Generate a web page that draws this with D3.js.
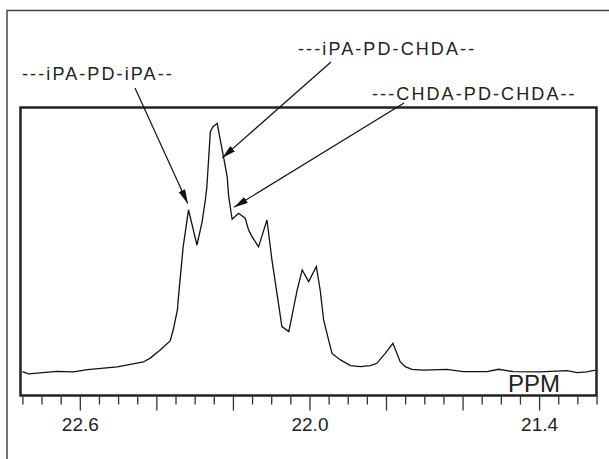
<!DOCTYPE html>
<html>
<head>
<meta charset="utf-8">
<script src="https://cdn.jsdelivr.net/npm/d3@7"></script>
<style>
  html, body { margin: 0; padding: 0; background: #fff; }
  svg { display: block; font-family: "Liberation Sans", Arial, Helvetica, sans-serif; }
</style>
</head>
<body>
<svg id="chart" width="609" height="459"></svg>
<script>
// 13C NMR methyl region: chemical shift (ppm) and relative intensity
const shiftPpm = [
  22.750, 22.734, 22.659, 22.617, 22.580, 22.502, 22.434, 22.416, 22.390, 22.364,
  22.356, 22.345, 22.343, 22.330, 22.316, 22.294, 22.281, 22.272, 22.268, 22.259,
  22.252, 22.241, 22.233, 22.224, 22.215, 22.211, 22.202, 22.185, 22.168, 22.159,
  22.150, 22.133, 22.111, 22.098, 22.085, 22.072, 22.054, 22.032, 22.019, 22.002,
  21.982, 21.972, 21.963, 21.950, 21.941, 21.919, 21.893, 21.867, 21.841, 21.824,
  21.802, 21.782, 21.763, 21.750, 21.732, 21.703, 21.641, 21.598, 21.536, 21.506,
  21.467, 21.397, 21.327, 21.301, 21.275, 21.253
];
const intensity = [
  1.3, 0.4, 1.4, 1.2, 2.1, 3.1, 5.0, 6.5, 9.6, 13.1,
  17.3, 25.0, 28.8, 49.3, 63.5, 50.0, 58.5, 67.3, 72.4, 93.6,
  95.5, 96.8, 90.4, 83.5, 76.3, 68.6, 59.9, 62.2, 60.3, 55.8,
  53.2, 49.3, 59.6, 44.2, 31.5, 18.6, 16.7, 32.7, 40.4, 35.9,
  41.7, 32.7, 21.2, 13.5, 8.3, 5.8, 3.6, 3.2, 3.6, 4.5,
  8.3, 12.2, 5.1, 3.2, 2.2, 1.9, 2.2, 1.3, 1.3, 2.2,
  1.3, 1.2, 1.7, 0.9, 1.2, 1.9
];

// Axis ticks
const majorTicks = [22.6, 22.4, 22.2, 22.0, 21.8, 21.6, 21.4];
const tickLabels = ["22.6", "22.0", "21.4"];
const labelledTicks = [22.6, 22.0, 21.4];
const minorTicks = [
  22.75, 22.70, 22.65, 22.55, 22.50, 22.45, 22.35, 22.30, 22.25, 22.15, 22.10, 22.05,
  21.95, 21.90, 21.85, 21.75, 21.70, 21.65, 21.55, 21.50, 21.45, 21.35, 21.30, 21.25
];

// Peak assignments: label text, peak shift it points at, intensity of the arrow tip
const peakLabels = ["---iPA-PD-iPA--", "---iPA-PD-CHDA--", "---CHDA-PD-CHDA--"];
const peakShift = [22.318, 22.228, 22.197];
const peakTipIntensity = [66.0, 83.5, 64.5];

const svg = d3.select("#chart");
const plotLeft = 20.5, plotRight = 596.5, plotTop = 107.5, plotBottom = 395.5;

const x = d3.scaleLinear().domain([22.755, 21.25]).range([plotLeft, plotRight]);
const y = d3.scaleLinear().domain([0, 100]).range([375, 115]);

// outer frame (open at right and bottom)
svg.append("path")
  .attr("d", `M7,459 L7,10.5 L609,10.5`)
  .attr("fill", "none").attr("stroke", "#444").attr("stroke-width", 1.5);

// spectrum trace
const pts = shiftPpm.map((p, i) => [p, intensity[i]]);
svg.append("path")
  .datum(pts)
  .attr("d", d3.line().x(d => x(d[0])).y(d => y(d[1])))
  .attr("fill", "none").attr("stroke", "#111").attr("stroke-width", 1.3)
  .attr("stroke-linejoin", "miter");

// plot frame
svg.append("rect")
  .attr("x", plotLeft).attr("y", plotTop)
  .attr("width", plotRight - plotLeft).attr("height", plotBottom - plotTop)
  .attr("fill", "none").attr("stroke", "#222").attr("stroke-width", 2.5);

// bottom axis: minor ticks, then major ticks with selected labels
const axisMinor = d3.axisBottom(x).tickValues(minorTicks).tickSize(9).tickFormat("");
const axisMajor = d3.axisBottom(x).tickValues(majorTicks).tickSize(15)
  .tickFormat(d => { const k = labelledTicks.indexOf(d); return k >= 0 ? tickLabels[k] : ""; });

const gMin = svg.append("g").attr("transform", `translate(0,${plotBottom})`).call(axisMinor);
const gMaj = svg.append("g").attr("transform", `translate(0,${plotBottom})`).call(axisMajor);
[gMin, gMaj].forEach(g => {
  g.select(".domain").remove();
  g.selectAll(".tick line").attr("stroke", "#333").attr("stroke-width", 1.3);
});
gMaj.selectAll(".tick text")
  .attr("y", 22).attr("dy", "0.71em")
  .attr("fill", "#222").style("font-size", "19px")
  .style("font-family", "'Liberation Sans', Arial, sans-serif");

// unit label
svg.append("text")
  .attr("x", 560).attr("y", 392)
  .attr("text-anchor", "end")
  .attr("fill", "#222").style("font-size", "24px")
  .text("PPM");

// annotation labels with arrows
svg.append("defs").append("marker")
  .attr("id", "arrowhead").attr("viewBox", "0 0 14 7")
  .attr("refX", 14).attr("refY", 3.5)
  .attr("markerWidth", 14).attr("markerHeight", 7)
  .attr("markerUnits", "userSpaceOnUse")
  .attr("orient", "auto")
  .append("path").attr("d", "M0,0 L14,3.5 L0,7 Z").attr("fill", "#111");

const labelPos = [[22, 80], [298, 55], [372, 100]];
const arrowStart = [[135, 88], [331, 62], [404, 103]];

peakLabels.forEach((t, i) => {
  svg.append("text")
    .attr("x", labelPos[i][0]).attr("y", labelPos[i][1])
    .attr("fill", "#222").style("font-size", "18px")
    .style("letter-spacing", "2.1px")
    .text(t);
  svg.append("line")
    .attr("x1", arrowStart[i][0]).attr("y1", arrowStart[i][1])
    .attr("x2", x(peakShift[i])).attr("y2", y(peakTipIntensity[i]))
    .attr("stroke", "#111").attr("stroke-width", 1.2)
    .attr("marker-end", "url(#arrowhead)");
});
</script>
</body>
</html>
